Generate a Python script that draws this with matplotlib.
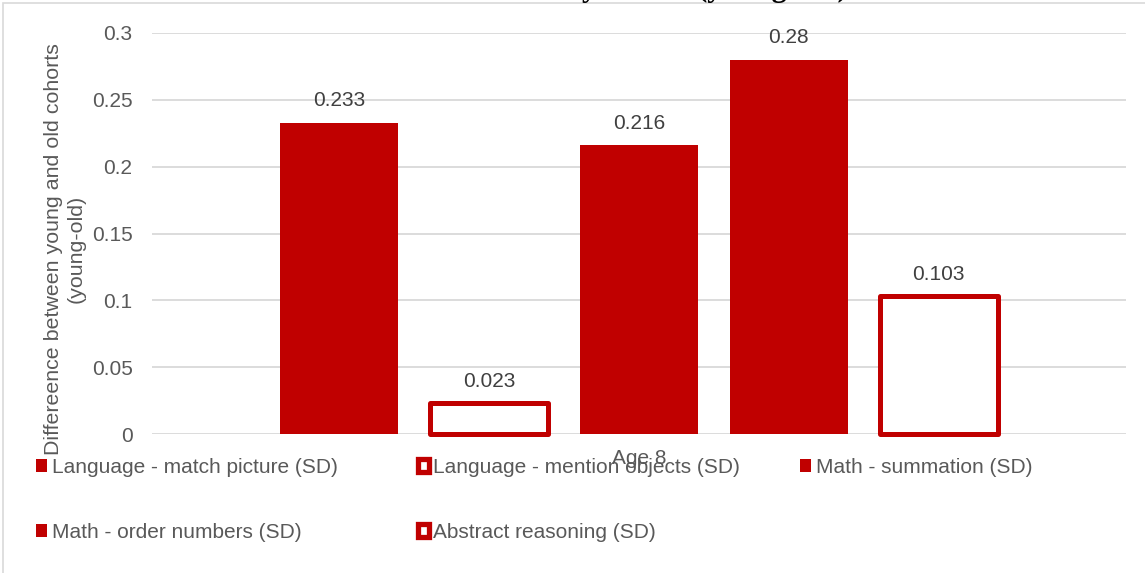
import numpy as np
import matplotlib.pyplot as plt
from matplotlib.patches import Rectangle

plt.rcParams['font.family'] = ['Liberation Sans', 'DejaVu Sans']

# data
series = ["Language - match picture (SD)", "Language - mention objects (SD)",
          "Math - summation (SD)", "Math - order numbers (SD)",
          "Abstract reasoning (SD)"]
values = [0.233, 0.023, 0.216, 0.28, 0.103]
hollow = [False, True, False, False, True]
category = "Age 8"

red = "#C00000"
grey_txt = "#595959"

fig = plt.figure(figsize=(11.45, 5.73), dpi=100)
ax = fig.add_axes([152/1145, 1-434/573, 974/1145, 401/573])

offsets = np.arange(len(values)) - 2
handles = []
for off, v, lab, h in zip(offsets, values, series, hollow):
    if h:
        b = ax.bar(off, v, width=0.79, facecolor="white", edgecolor=red,
                   linewidth=3.6, label=lab, zorder=3, clip_on=False)
    else:
        b = ax.bar(off, v, width=0.79, color=red, label=lab, zorder=3)
    b[0].set_joinstyle("round")
    handles.append(b)
    ax.annotate(f"{v:g}", (off, v), xytext=(0, 9), textcoords="offset points",
                ha="center", va="bottom", fontsize=15, color="#404040")

ax.set_xlim(-3.25, 3.25)
ax.set_ylim(0, 0.3)
ax.set_yticks([0, 0.05, 0.1, 0.15, 0.2, 0.25, 0.3])
ax.set_yticklabels(["0", "0.05", "0.1", "0.15", "0.2", "0.25", "0.3"])
ax.set_xticks([0])
ax.set_xticklabels([category])
ax.tick_params(axis="y", length=0, pad=14, labelsize=15, labelcolor=grey_txt)
ax.tick_params(axis="x", length=0, pad=11, labelsize=15, labelcolor=grey_txt)
ax.yaxis.grid(True, color="#d9d9d9", linewidth=1.3, zorder=0)
ax.set_axisbelow(True)
for s in ax.spines.values():
    s.set_visible(False)

fig.text(65/1145, 1-249/573, "Differeence between young and old cohorts\n(young-old)",
         rotation=90, ha="center", va="center", multialignment="center",
         fontsize=15.4, color=grey_txt)

# title, mostly cut off at the top of the picture
fig.text(848/1145, 1+4/573, "Difference by cohort (young-old)", ha="right",
         va="baseline", fontsize=22, fontweight="bold",
         family=["Liberation Serif", "DejaVu Serif"], color="black")

# chart border
fig.add_artist(Rectangle((3/1145, -0.1), 2, 1.1 - 3/573, transform=fig.transFigure,
                         fill=False, edgecolor="#d9d9d9", linewidth=1.2))

# legend: first two columns, then the third one on its own
leg_kw = dict(loc="upper left", frameon=False, fontsize=15, handlelength=0.55,
              handleheight=0.55, handletextpad=0.2, labelspacing=2.2,
              borderpad=0, borderaxespad=0)
order = [0, 3, 1, 4]
leg1 = fig.legend([handles[i] for i in order], [series[i] for i in order],
                  ncol=2, bbox_to_anchor=(36/1145, 1-458/573),
                  columnspacing=3.85, **leg_kw)
leg2 = fig.legend([handles[2]], [series[2]], ncol=1,
                  bbox_to_anchor=(800/1145, 1-458/573), **leg_kw)
for leg in (leg1, leg2):
    for t in leg.get_texts():
        t.set_color(grey_txt)
    for p in leg.legend_handles:
        if p.get_facecolor()[0] == 1.0:
            p.set_linewidth(3.8)

fig.savefig("out.png", dpi=100)
